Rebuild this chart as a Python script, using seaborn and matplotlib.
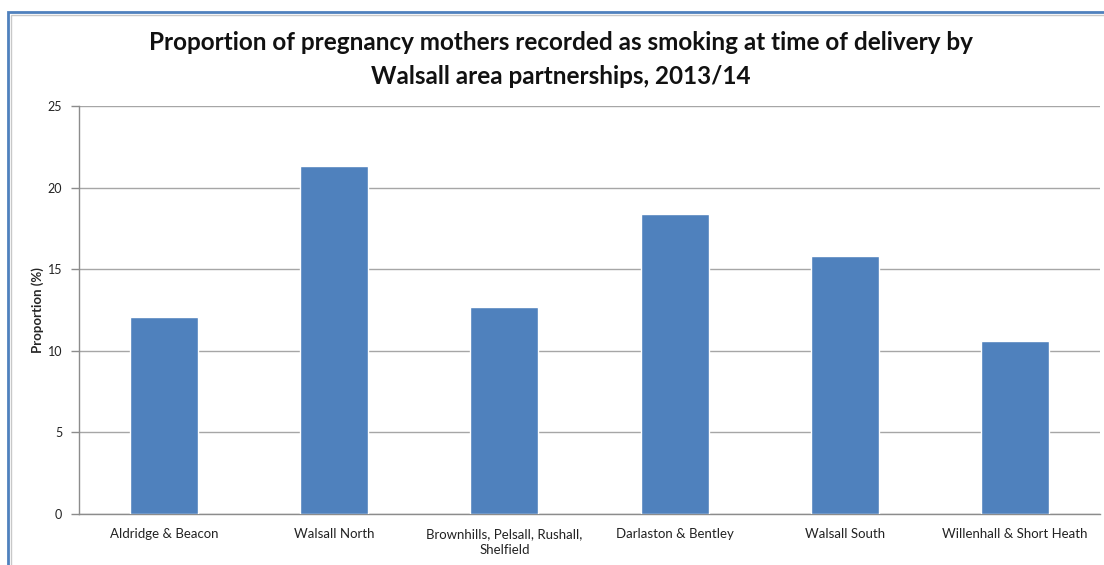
import pandas as pd
import matplotlib
matplotlib.use("Agg")
import matplotlib.pyplot as plt
import matplotlib.patches as mpatches
import seaborn as sns

# Data
areas = ["Aldridge & Beacon", "Walsall North", "Brownhills, Pelsall, Rushall,\nShelfield",
         "Darlaston & Bentley", "Walsall South", "Willenhall & Short Heath"]
proportion = [12.1, 21.3, 12.7, 18.4, 15.8, 10.6]
y_ticks = [0, 5, 10, 15, 20, 25]

df = pd.DataFrame({"area": areas, "proportion": proportion})

sns.set_theme(style="white")
plt.rcParams['font.family'] = ['Lato', 'DejaVu Sans']

fig = plt.figure(figsize=(11.04, 5.65), dpi=100)
ax = fig.add_axes([79 / 1104, 51 / 565, 1021 / 1104, 408 / 565])

sns.barplot(data=df, x="area", y="proportion", color="#4F81BD", width=0.4,
            saturation=1, ax=ax, zorder=3)

ax.set_ylim(0, 25)
ax.set_xlim(-0.5, len(areas) - 0.5)
ax.set_yticks(y_ticks)
ax.set_yticklabels([str(t) for t in y_ticks], fontsize=9, color="#222222")
ax.yaxis.grid(True, color="#A6A6A6", linewidth=1, zorder=0)
ax.set_axisbelow(True)

# category labels centred, ticks at the boundaries
ax.set_xticks(range(len(areas)))
ax.set_xticklabels(areas, fontsize=9.5, color="#222222", linespacing=1.4)
ax.tick_params(axis="x", length=0, pad=10)
ax.set_xticks([i - 0.5 for i in range(len(areas) + 1)], minor=True)
ax.tick_params(axis="x", which="minor", length=5, color="#8C8C8C", width=1)
ax.tick_params(axis="y", length=6, color="#8C8C8C", width=1, pad=6, left=True)

for side in ["top", "right"]:
    ax.spines[side].set_visible(False)
for side in ["left", "bottom"]:
    ax.spines[side].set_color("#8C8C8C")
    ax.spines[side].set_linewidth(1)

ax.set_xlabel("")
ax.set_ylabel("Proportion (%)", fontsize=9.5, fontweight="bold", labelpad=3)

fig.text(0.508, 0.895, "Proportion of pregnancy mothers recorded as smoking at time of delivery by\nWalsall area partnerships, 2013/14",
         ha="center", va="center", fontsize=17.5, fontweight="bold", linespacing=1.6, color="#111111")

# outer chart frame (blue edge with grey inner line)
fig.add_artist(mpatches.Rectangle((8 / 1104, -0.1), 1.2, (565 - 12) / 565 + 0.1,
                                  transform=fig.transFigure, fill=False,
                                  edgecolor="#4F81BD", linewidth=2))
fig.add_artist(mpatches.Rectangle((10.5 / 1104, -0.1), 1.2, (565 - 14.5) / 565 + 0.1,
                                  transform=fig.transFigure, fill=False,
                                  edgecolor="#C8C8C8", linewidth=1))

plt.savefig("out.png", dpi=100)
